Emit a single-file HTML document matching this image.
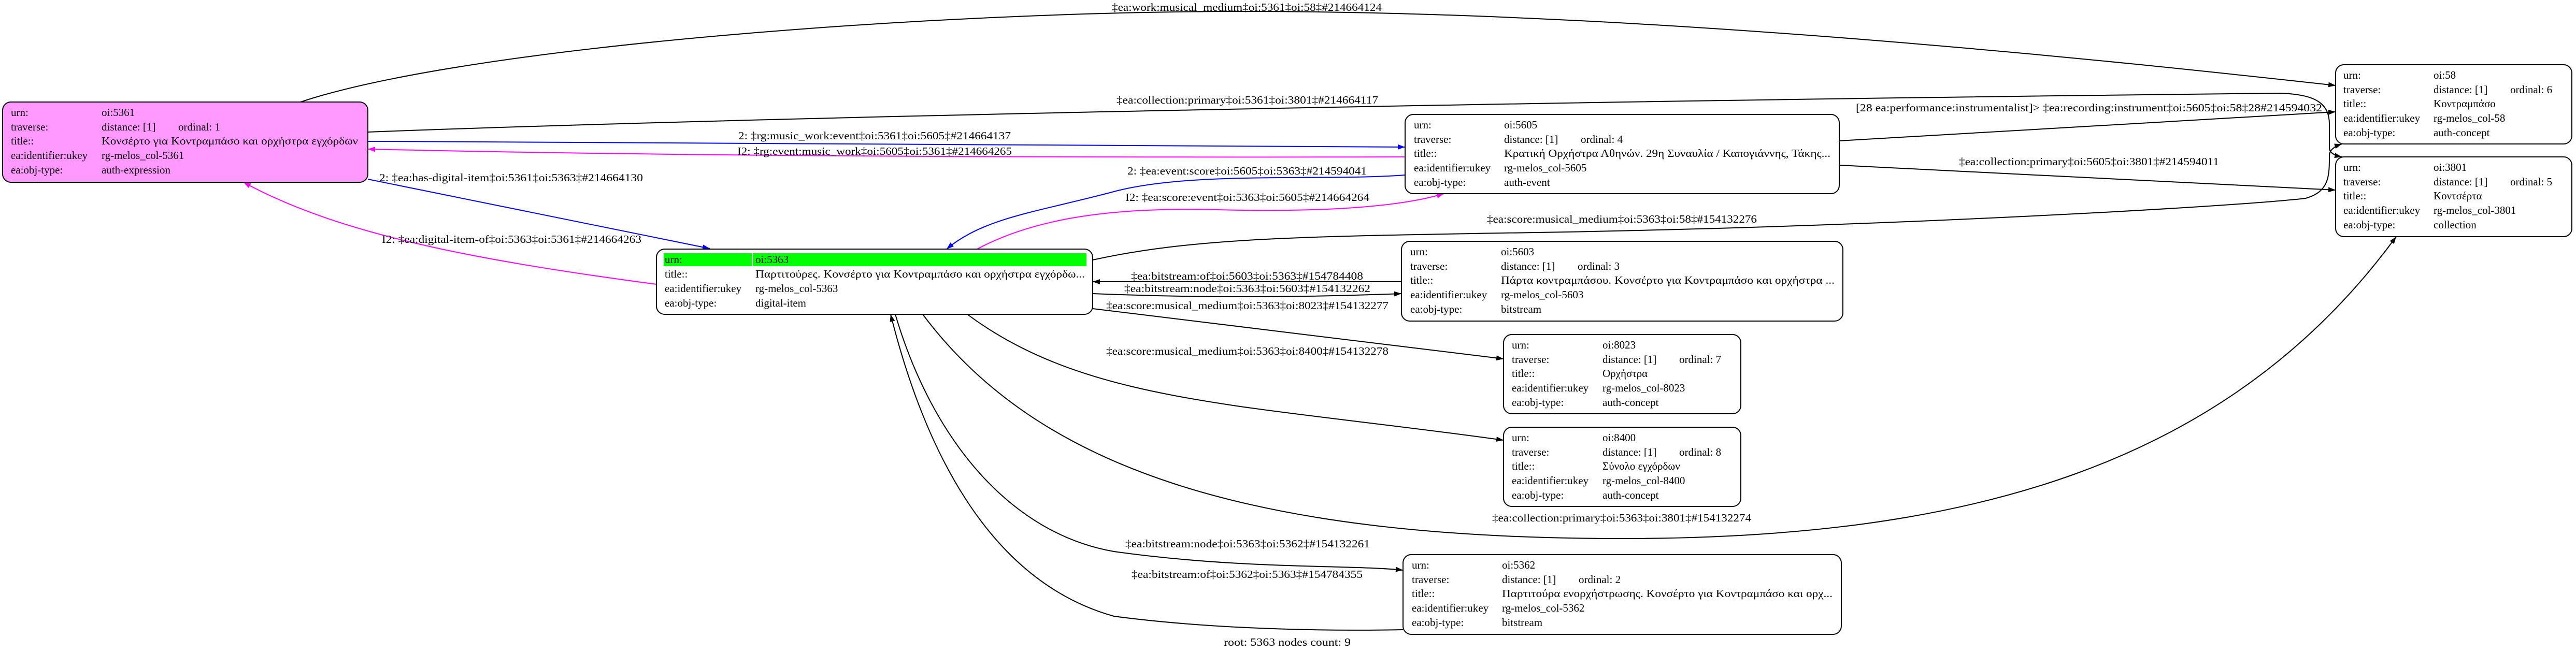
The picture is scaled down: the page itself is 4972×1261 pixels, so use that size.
<!DOCTYPE html>
<html><head><meta charset="utf-8"><style>
html,body{margin:0;padding:0;background:#fff;}
svg{display:block;}
text{font-family:"Liberation Serif","DejaVu Serif",serif;font-size:21px;fill:#000;}
</style></head><body>
<svg width="4972" height="1261" viewBox="0 0 4972 1261" xmlns="http://www.w3.org/2000/svg">
<defs>
<marker id="ak" markerUnits="userSpaceOnUse" markerWidth="16" markerHeight="12" refX="14" refY="5" orient="auto"><path d="M0,0 L14,5 L0,10 z" fill="#000"/></marker>
<marker id="ab" markerUnits="userSpaceOnUse" markerWidth="16" markerHeight="12" refX="14" refY="5" orient="auto"><path d="M0,0 L14,5 L0,10 z" fill="#00f"/></marker>
<marker id="am" markerUnits="userSpaceOnUse" markerWidth="16" markerHeight="12" refX="14" refY="5" orient="auto"><path d="M0,0 L14,5 L0,10 z" fill="#f0f"/></marker>
</defs>
<g fill="none" stroke-width="2">
<path d="M580,197 C900,90 1800,22 2400,22 C3200,22 4100,120 4508,165" stroke="#000" marker-end="url(#ak)"/>
<path d="M710,255 C1500,225 3000,195 4400,180 C4470,182 4496,200 4496,240 L4496,285 C4496,295 4505,300 4520,303" stroke="#000" marker-end="url(#ak)"/>
<path d="M710,273 C1500,274 2300,278 2712,284" stroke="#00f" marker-end="url(#ab)"/>
<path d="M2712,303 C2200,304 1400,304 710,288" stroke="#f0f" marker-end="url(#am)"/>
<path d="M710,346 L1370,480" stroke="#00f" marker-end="url(#ab)"/>
<path d="M1267,549 C900,500 650,450 470,352" stroke="#f0f" marker-end="url(#am)"/>
<path d="M2712,338 C2550,350 2300,330 2150,370 C2000,410 1900,420 1827,481" stroke="#00f" marker-end="url(#ab)"/>
<path d="M1886,481 C2000,420 2150,400 2350,405 C2550,410 2700,400 2787,374" stroke="#f0f" marker-end="url(#am)"/>
<path d="M3550,272 L4508,216" stroke="#000" marker-end="url(#ak)"/>
<path d="M3550,319 L4508,367" stroke="#000" marker-end="url(#ak)"/>
<path d="M2705,544 L2109,544" stroke="#000" marker-end="url(#ak)"/>
<path d="M2109,567 C2300,575 2500,575 2705,567" stroke="#000" marker-end="url(#ak)"/>
<path d="M2109,596 L2902,693" stroke="#000" marker-end="url(#ak)"/>
<path d="M1867,607 C2100,780 2400,780 2902,850" stroke="#000" marker-end="url(#ak)"/>
<path d="M1781,607 C2000,900 2400,1040 3130,1040 C3800,1040 4300,900 4625,457" stroke="#000" marker-end="url(#ak)"/>
<path d="M2109,502 C2300,460 2500,457 2900,450 C3600,440 4300,400 4450,383 C4496,370 4496,340 4496,300 C4496,290 4505,283 4520,278" stroke="#000" marker-end="url(#ak)"/>
<path d="M1728,607 C1800,850 1950,1030 2150,1065 C2400,1100 2600,1090 2708,1101" stroke="#000" marker-end="url(#ak)"/>
<path d="M2708,1216 C2500,1220 2300,1210 2150,1190 C1900,1120 1780,850 1719,607" stroke="#000" marker-end="url(#ak)"/>
</g>
<g style="font-size:20px">
<text x="2146" y="21" textLength="521" lengthAdjust="spacingAndGlyphs">‡ea:work:musical_medium‡oi:5361‡oi:58‡#214664124</text>
<text x="2155" y="200" textLength="505" lengthAdjust="spacingAndGlyphs">‡ea:collection:primary‡oi:5361‡oi:3801‡#214664117</text>
<text x="1425" y="269" textLength="526" lengthAdjust="spacingAndGlyphs">2: ‡rg:music_work:event‡oi:5361‡oi:5605‡#214664137</text>
<text x="1423" y="299" textLength="530" lengthAdjust="spacingAndGlyphs">I2: ‡rg:event:music_work‡oi:5605‡oi:5361‡#214664265</text>
<text x="732" y="350" textLength="509" lengthAdjust="spacingAndGlyphs">2: ‡ea:has-digital-item‡oi:5361‡oi:5363‡#214664130</text>
<text x="737" y="469" textLength="501" lengthAdjust="spacingAndGlyphs">I2: ‡ea:digital-item-of‡oi:5363‡oi:5361‡#214664263</text>
<text x="2176" y="337" textLength="462" lengthAdjust="spacingAndGlyphs">2: ‡ea:event:score‡oi:5605‡oi:5363‡#214594041</text>
<text x="2172" y="388" textLength="471" lengthAdjust="spacingAndGlyphs">I2: ‡ea:score:event‡oi:5363‡oi:5605‡#214664264</text>
<text x="3582" y="215" textLength="900" lengthAdjust="spacingAndGlyphs">[28 ea:performance:instrumentalist]&gt; ‡ea:recording:instrument‡oi:5605‡oi:58‡28#214594032</text>
<text x="3781" y="319" textLength="502" lengthAdjust="spacingAndGlyphs">‡ea:collection:primary‡oi:5605‡oi:3801‡#214594011</text>
<text x="2870" y="430" textLength="521" lengthAdjust="spacingAndGlyphs">‡ea:score:musical_medium‡oi:5363‡oi:58‡#154132276</text>
<text x="2183" y="540" textLength="448" lengthAdjust="spacingAndGlyphs">‡ea:bitstream:of‡oi:5603‡oi:5363‡#154784408</text>
<text x="2170" y="564" textLength="475" lengthAdjust="spacingAndGlyphs">‡ea:bitstream:node‡oi:5363‡oi:5603‡#154132262</text>
<text x="2135" y="597" textLength="545" lengthAdjust="spacingAndGlyphs">‡ea:score:musical_medium‡oi:5363‡oi:8023‡#154132277</text>
<text x="2135" y="685" textLength="545" lengthAdjust="spacingAndGlyphs">‡ea:score:musical_medium‡oi:5363‡oi:8400‡#154132278</text>
<text x="2880" y="1007" textLength="500" lengthAdjust="spacingAndGlyphs">‡ea:collection:primary‡oi:5363‡oi:3801‡#154132274</text>
<text x="2172" y="1057" textLength="472" lengthAdjust="spacingAndGlyphs">‡ea:bitstream:node‡oi:5363‡oi:5362‡#154132261</text>
<text x="2184" y="1116" textLength="446" lengthAdjust="spacingAndGlyphs">‡ea:bitstream:of‡oi:5362‡oi:5363‡#154784355</text>
<text x="2362" y="1247" textLength="245" lengthAdjust="spacingAndGlyphs">root: 5363 nodes count: 9</text>
</g>

<!-- 5361 -->
<rect x="5" y="197" width="705" height="155" rx="16" fill="#ff99ff" stroke="#000" stroke-width="2"/>
<text x="21" y="224">urn:</text><text x="196" y="224">oi:5361</text>
<text x="21" y="252">traverse:</text><text x="196" y="252">distance: [1]</text><text x="344" y="252">ordinal: 1</text>
<text x="21" y="279">title::</text><text x="196" y="279" textLength="495" lengthAdjust="spacingAndGlyphs">Κονσέρτο για Κοντραμπάσο και ορχήστρα εγχόρδων</text>
<text x="21" y="307">ea:identifier:ukey</text><text x="196" y="307">rg-melos_col-5361</text>
<text x="21" y="335">ea:obj-type:</text><text x="196" y="335">auth-expression</text>

<!-- 5605 -->
<rect x="2712" y="221" width="838" height="153" rx="16" fill="#fff" stroke="#000" stroke-width="2"/>
<text x="2729" y="248">urn:</text><text x="2903" y="248">oi:5605</text>
<text x="2729" y="276">traverse:</text><text x="2903" y="276">distance: [1]</text><text x="3051" y="276">ordinal: 4</text>
<text x="2729" y="303">title::</text><text x="2903" y="303" textLength="630" lengthAdjust="spacingAndGlyphs">Κρατική Ορχήστρα Αθηνών. 29η Συναυλία / Καπογιάννης, Τάκης...</text>
<text x="2729" y="331">ea:identifier:ukey</text><text x="2903" y="331">rg-melos_col-5605</text>
<text x="2729" y="359">ea:obj-type:</text><text x="2903" y="359">auth-event</text>

<!-- 58 -->
<rect x="4508" y="125" width="456" height="153" rx="16" fill="#fff" stroke="#000" stroke-width="2"/>
<text x="4523" y="152">urn:</text><text x="4697" y="152">oi:58</text>
<text x="4523" y="180">traverse:</text><text x="4697" y="180">distance: [1]</text><text x="4845" y="180">ordinal: 6</text>
<text x="4523" y="207">title::</text><text x="4697" y="207">Κοντραμπάσο</text>
<text x="4523" y="235">ea:identifier:ukey</text><text x="4697" y="235">rg-melos_col-58</text>
<text x="4523" y="263">ea:obj-type:</text><text x="4697" y="263">auth-concept</text>

<!-- 3801 -->
<rect x="4508" y="303" width="456" height="154" rx="16" fill="#fff" stroke="#000" stroke-width="2"/>
<text x="4523" y="330">urn:</text><text x="4697" y="330">oi:3801</text>
<text x="4523" y="358">traverse:</text><text x="4697" y="358">distance: [1]</text><text x="4845" y="358">ordinal: 5</text>
<text x="4523" y="385">title::</text><text x="4697" y="385">Κοντσέρτα</text>
<text x="4523" y="413">ea:identifier:ukey</text><text x="4697" y="413">rg-melos_col-3801</text>
<text x="4523" y="441">ea:obj-type:</text><text x="4697" y="441">collection</text>

<!-- 5363 -->
<rect x="1267" y="481" width="842" height="126" rx="16" fill="#fff" stroke="#000" stroke-width="2"/>
<rect x="1281" y="489" width="170" height="25" fill="#00ff00"/>
<rect x="1453" y="489" width="644" height="25" fill="#00ff00"/>
<text x="1283" y="508">urn:</text><text x="1458" y="508">oi:5363</text>
<text x="1283" y="536">title::</text><text x="1458" y="536" textLength="636" lengthAdjust="spacingAndGlyphs">Παρτιτούρες. Κονσέρτο για Κοντραμπάσο και ορχήστρα εγχόρδω...</text>
<text x="1283" y="564">ea:identifier:ukey</text><text x="1458" y="564">rg-melos_col-5363</text>
<text x="1283" y="592">ea:obj-type:</text><text x="1458" y="592">digital-item</text>

<!-- 5603 -->
<rect x="2705" y="466" width="852" height="154" rx="16" fill="#fff" stroke="#000" stroke-width="2"/>
<text x="2722" y="493">urn:</text><text x="2897" y="493">oi:5603</text>
<text x="2722" y="521">traverse:</text><text x="2897" y="521">distance: [1]</text><text x="3045" y="521">ordinal: 3</text>
<text x="2722" y="548">title::</text><text x="2897" y="548" textLength="644" lengthAdjust="spacingAndGlyphs">Πάρτα κοντραμπάσου. Κονσέρτο για Κοντραμπάσο και ορχήστρα ...</text>
<text x="2722" y="576">ea:identifier:ukey</text><text x="2897" y="576">rg-melos_col-5603</text>
<text x="2722" y="604">ea:obj-type:</text><text x="2897" y="604">bitstream</text>

<!-- 8023 -->
<rect x="2902" y="646" width="458" height="153" rx="16" fill="#fff" stroke="#000" stroke-width="2"/>
<text x="2918" y="673">urn:</text><text x="3093" y="673">oi:8023</text>
<text x="2918" y="701">traverse:</text><text x="3093" y="701">distance: [1]</text><text x="3241" y="701">ordinal: 7</text>
<text x="2918" y="728">title::</text><text x="3093" y="728">Ορχήστρα</text>
<text x="2918" y="756">ea:identifier:ukey</text><text x="3093" y="756">rg-melos_col-8023</text>
<text x="2918" y="784">ea:obj-type:</text><text x="3093" y="784">auth-concept</text>

<!-- 8400 -->
<rect x="2902" y="825" width="458" height="153" rx="16" fill="#fff" stroke="#000" stroke-width="2"/>
<text x="2918" y="852">urn:</text><text x="3093" y="852">oi:8400</text>
<text x="2918" y="880">traverse:</text><text x="3093" y="880">distance: [1]</text><text x="3241" y="880">ordinal: 8</text>
<text x="2918" y="907">title::</text><text x="3093" y="907">Σύνολο εγχόρδων</text>
<text x="2918" y="935">ea:identifier:ukey</text><text x="3093" y="935">rg-melos_col-8400</text>
<text x="2918" y="963">ea:obj-type:</text><text x="3093" y="963">auth-concept</text>

<!-- 5362 -->
<rect x="2708" y="1071" width="846" height="154" rx="16" fill="#fff" stroke="#000" stroke-width="2"/>
<text x="2725" y="1098">urn:</text><text x="2899" y="1098">oi:5362</text>
<text x="2725" y="1126">traverse:</text><text x="2899" y="1126">distance: [1]</text><text x="3047" y="1126">ordinal: 2</text>
<text x="2725" y="1153">title::</text><text x="2899" y="1153" textLength="638" lengthAdjust="spacingAndGlyphs">Παρτιτούρα ενορχήστρωσης. Κονσέρτο για Κοντραμπάσο και ορχ...</text>
<text x="2725" y="1181">ea:identifier:ukey</text><text x="2899" y="1181">rg-melos_col-5362</text>
<text x="2725" y="1209">ea:obj-type:</text><text x="2899" y="1209">bitstream</text>
</svg>
</body></html>
